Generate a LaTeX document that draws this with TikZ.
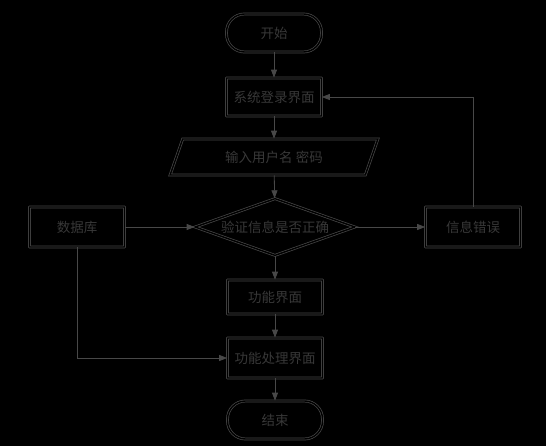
\documentclass[tikz,border=0pt]{standalone}
\usepackage{fontspec}
\newfontfamily\cjk{Noto Sans CJK SC}
\usetikzlibrary{shapes.geometric,arrows.meta}
\definecolor{lc}{RGB}{72,72,72}
\definecolor{tc}{RGB}{56,56,56}
\begin{document}
\begin{tikzpicture}[x=1pt,y=-1pt,
  base/.style={draw=lc, double=black, double distance=1.4pt, line width=0.7pt,
    text=tc, font=\cjk\fontsize{13.5}{16}\selectfont, inner sep=0pt},
  boxnode/.style={base, rectangle, rounded corners=0.3pt, minimum width=95pt, minimum height=38pt},
  termnode/.style={base, rectangle, rounded corners=18pt, minimum width=95pt, minimum height=38pt},
  ionode/.style={base, trapezium, trapezium left angle=62, trapezium right angle=118,
    trapezium stretches=true, minimum width=208pt, minimum height=36pt},
  decnode/.style={base, diamond, aspect=2.8, minimum width=160pt, minimum height=57pt},
  arr/.style={draw=lc, line width=0.8pt, -{Triangle[length=8pt,width=6pt]}}]
\fill[black] (0,0) rectangle (546,446);
\useasboundingbox (0,0) rectangle (546,446);
\node[termnode] (start) at (274,33) {开始};
\node[boxnode] (login) at (274,97) {系统登录界面};
\node[ionode] (input) at (274,157) {输入用户名 密码};
\node[decnode] (check) at (275,227) {验证信息是否正确};
\node[boxnode, minimum height=40pt] (db) at (77,227) {数据库};
\node[boxnode, minimum height=40pt] (err) at (473,227) {信息错误};
\node[boxnode, minimum height=34pt] (func) at (275,297) {功能界面};
\node[boxnode, minimum height=40pt] (proc) at (275,358) {功能处理界面};
\node[termnode] (end) at (275,420) {结束};
\draw[arr] (start) -- (login);
\draw[arr] (login) -- (input);
\draw[arr] (input) -- (check);
\draw[arr] (db) -- (check);
\draw[arr] (check) -- (err);
\draw[arr] (err.north) |- (login.east);
\draw[arr] (check) -- (func);
\draw[arr] (func) -- (proc);
\draw[arr] (db.south) |- (proc.west);
\draw[arr] (proc) -- (end);
\end{tikzpicture}
\end{document}
